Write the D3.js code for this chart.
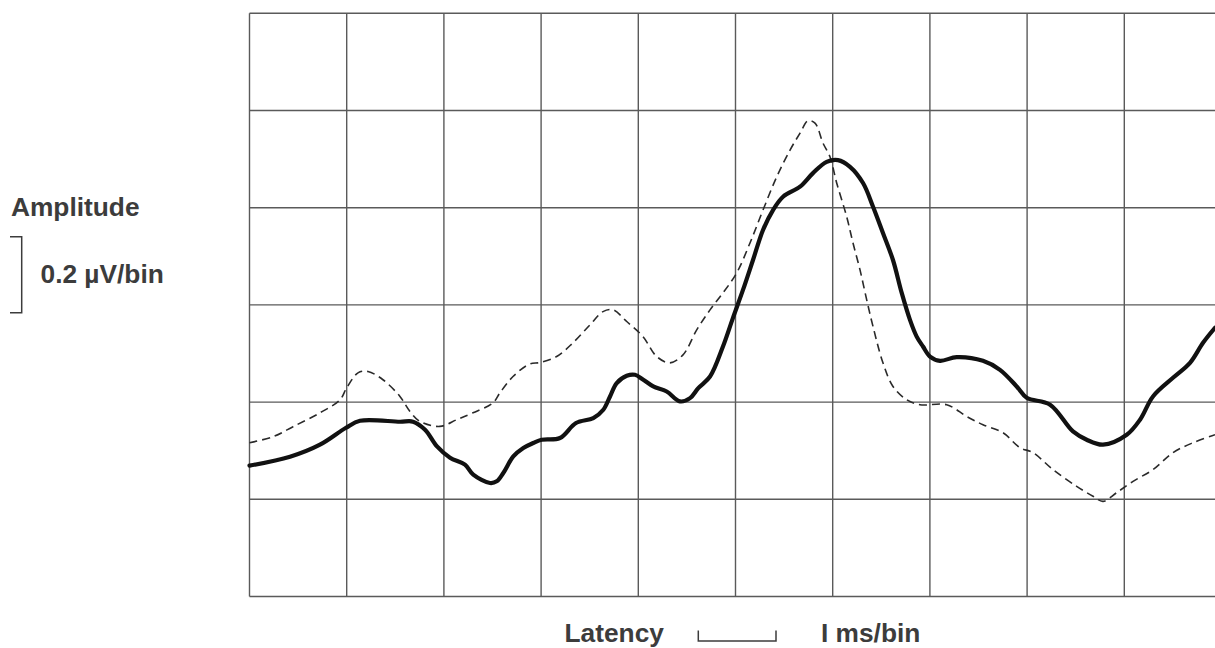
<!DOCTYPE html>
<html>
<head>
<meta charset="utf-8">
<script src="https://cdn.jsdelivr.net/npm/d3@7"></script>
<style>
  html, body { margin: 0; padding: 0; background: #fff; overflow: hidden; }
  svg { display: block; }
  text { font-family: "Liberation Sans", Arial, sans-serif; font-weight: bold; fill: #3c3c3c; }
</style>
</head>
<body>
<script>
// ---- data (x: latency in tenths of a grid division, y: amplitude in tenths of a division) ----
const gridColumns = [0, 10, 20, 30, 40, 50, 60, 70, 80, 90, 100];
const gridRows = [0, 10, 20, 30, 40, 50, 60];

const solidLatency = [0, 4.17, 7.25, 9.93, 11.37, 15.48, 16.82, 18.06, 19.29, 20.63, 22.17, 23.02, 24.74, 25.43, 26.11, 27.14, 28.17, 29.20, 30.06, 31.94, 33.59, 35.37, 36.40, 37.09, 37.78, 38.81, 39.66, 40.51, 41.54, 42.92, 44.29, 45.32, 46.17, 47.38, 48.71, 49.74, 50.77, 51.80, 52.83, 53.86, 54.89, 56.64, 57.97, 59.38, 60.54, 61.78, 63.12, 64.15, 65.17, 66.20, 67.10, 67.95, 68.64, 69.29, 70.01, 71.04, 72.76, 75.46, 77.21, 78.93, 79.96, 82.36, 84.72, 86.13, 87.81, 90.25, 91.62, 92.95, 95.01, 96.76, 98.10, 99.33];
const solidAmplitude = [13.46, 14.38, 15.62, 17.36, 18.08, 17.98, 17.99, 17.16, 15.44, 14.28, 13.56, 12.53, 11.68, 11.85, 12.71, 14.41, 15.28, 15.79, 16.13, 16.31, 17.85, 18.36, 19.21, 20.58, 21.96, 22.71, 22.81, 22.30, 21.61, 21.09, 20.07, 20.41, 21.44, 22.63, 25.72, 28.67, 31.54, 34.62, 37.71, 39.76, 41.13, 42.16, 43.56, 44.72, 44.90, 44.21, 42.54, 40.10, 37.40, 34.62, 31.23, 28.46, 26.74, 25.72, 24.69, 24.25, 24.63, 24.25, 23.32, 21.61, 20.45, 19.73, 16.98, 16.13, 15.62, 16.64, 18.19, 20.58, 22.50, 24.04, 26.10, 27.64];

const dashedLatency = [0, 2.42, 4.48, 7.25, 9.31, 10.0, 11.16, 12.19, 13.73, 15.48, 16.51, 17.54, 19.60, 21.32, 22.99, 25.05, 25.77, 27.11, 28.86, 29.89, 31.60, 33.28, 35.03, 36.37, 37.40, 38.81, 40.48, 41.89, 43.26, 44.60, 46.01, 47.38, 48.71, 50.12, 51.49, 52.83, 54.24, 55.61, 56.64, 57.46, 58.18, 59.00, 59.72, 60.41, 61.44, 62.09, 62.81, 63.50, 64.15, 65.17, 66.20, 67.61, 68.98, 71.73, 73.79, 75.46, 77.52, 79.27, 80.61, 82.67, 85.10, 86.78, 87.81, 89.22, 90.90, 92.95, 95.01, 97.07, 99.33];
const dashedAmplitude = [15.82, 16.44, 17.47, 18.90, 20.24, 21.47, 23.01, 23.15, 22.30, 20.58, 19.04, 18.01, 17.50, 18.19, 18.90, 19.93, 20.96, 22.63, 23.94, 24.07, 24.69, 26.10, 27.95, 29.31, 29.49, 28.29, 26.74, 24.69, 24.04, 24.86, 27.43, 29.49, 31.23, 33.29, 36.37, 39.76, 43.18, 45.93, 47.67, 48.94, 48.70, 46.65, 45.24, 42.54, 39.07, 36.37, 33.60, 30.51, 27.77, 24.04, 21.61, 20.24, 19.73, 19.73, 18.52, 17.67, 16.85, 15.31, 14.80, 13.05, 11.33, 10.31, 9.79, 10.69, 11.85, 13.05, 14.80, 15.82, 16.64];

const amplitudeLabel = "Amplitude";
const amplitudeScaleLabel = "0.2 \u00B5V/bin";
const latencyLabel = "Latency";
const latencyScaleLabel = "I ms/bin";

// ---- drawing ----
const W = 1215, H = 648;
const svg = d3.select("body").append("svg").attr("width", W).attr("height", H);

const x = d3.scaleLinear().domain([0, 100]).range([249.5, 1221.5]);
const y = d3.scaleLinear().domain([0, 60]).range([596.5, 13.3]);

const grid = svg.append("g").attr("stroke", "#5a5a5a").attr("stroke-width", 1.4).attr("fill", "none");
grid.selectAll("line.v").data(gridColumns).join("line")
  .attr("class", "v")
  .attr("x1", d => x(d)).attr("x2", d => x(d))
  .attr("y1", y(0)).attr("y2", y(60));
grid.selectAll("line.h").data(gridRows).join("line")
  .attr("class", "h")
  .attr("x1", x(0)).attr("x2", x(100))
  .attr("y1", d => y(d)).attr("y2", d => y(d));

const line = d3.line()
  .x(d => x(d[0]))
  .y(d => y(d[1]))
  .curve(d3.curveCatmullRom.alpha(0.5));

const dashed = dashedLatency.map((v, i) => [v, dashedAmplitude[i]]);
const solid = solidLatency.map((v, i) => [v, solidAmplitude[i]]);

svg.append("path").datum(dashed)
  .attr("d", line)
  .attr("fill", "none")
  .attr("stroke", "#2a2a2a")
  .attr("stroke-width", 1.6)
  .attr("stroke-dasharray", "8,5");

svg.append("path").datum(solid)
  .attr("d", line)
  .attr("fill", "none")
  .attr("stroke", "#111")
  .attr("stroke-width", 4.2)
  .attr("stroke-linejoin", "round")
  .attr("stroke-linecap", "round");

// amplitude legend
const fs = 26.3;
svg.append("text").attr("x", 11).attr("y", 216).attr("font-size", fs).text(amplitudeLabel);
svg.append("text").attr("x", 40.5).attr("y", 283).attr("font-size", fs).text(amplitudeScaleLabel);
svg.append("path")
  .attr("d", "M10,236.7H21.7V312.7H10")
  .attr("fill", "none").attr("stroke", "#3c3c3c").attr("stroke-width", 1.5);

// latency legend
svg.append("text").attr("x", 564.5).attr("y", 642).attr("font-size", fs).text(latencyLabel);
svg.append("text").attr("x", 821).attr("y", 642).attr("font-size", fs).text(latencyScaleLabel);
svg.append("path")
  .attr("d", "M698.3,630.5V641H776V630.5")
  .attr("fill", "none").attr("stroke", "#3c3c3c").attr("stroke-width", 1.5);
</script>
</body>
</html>
